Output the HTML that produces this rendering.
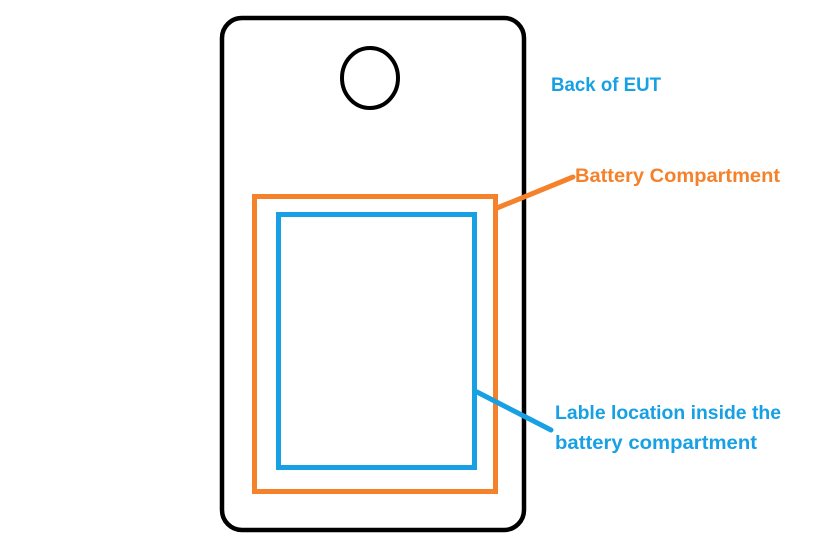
<!DOCTYPE html>
<html><head><style>html,body{margin:0;padding:0;background:#fff}</style></head>
<body>
<svg width="840" height="549" viewBox="0 0 840 549" xmlns="http://www.w3.org/2000/svg" style="display:block">
<rect x="222" y="18" width="302" height="512" rx="20" ry="20" fill="none" stroke="#000" stroke-width="4.5"/>
<ellipse cx="370" cy="78" rx="28" ry="30" fill="none" stroke="#000" stroke-width="4"/>
<rect x="254.5" y="196.5" width="241" height="295" fill="none" stroke="#f5812a" stroke-width="5"/>
<rect x="278.5" y="214.5" width="196" height="253" fill="none" stroke="#17a0e4" stroke-width="5"/>
<line x1="497" y1="208" x2="573" y2="177" stroke="#f5812a" stroke-width="5" stroke-linecap="round"/>
<line x1="477" y1="392" x2="551" y2="430" stroke="#17a0e4" stroke-width="5" stroke-linecap="round"/>
<g font-family="Liberation Sans, sans-serif" font-weight="bold" font-size="19">
<text x="551" y="91" fill="#17a0e4" textLength="110" lengthAdjust="spacingAndGlyphs">Back of EUT</text>
<text x="575" y="182" fill="#f5812a" textLength="205" lengthAdjust="spacingAndGlyphs">Battery Compartment</text>
<text x="555" y="419" fill="#17a0e4" textLength="226" lengthAdjust="spacingAndGlyphs">Lable location inside the</text>
<text x="555" y="449" fill="#17a0e4" textLength="202" lengthAdjust="spacingAndGlyphs">battery compartment</text>
</g>
</svg>
</body></html>
